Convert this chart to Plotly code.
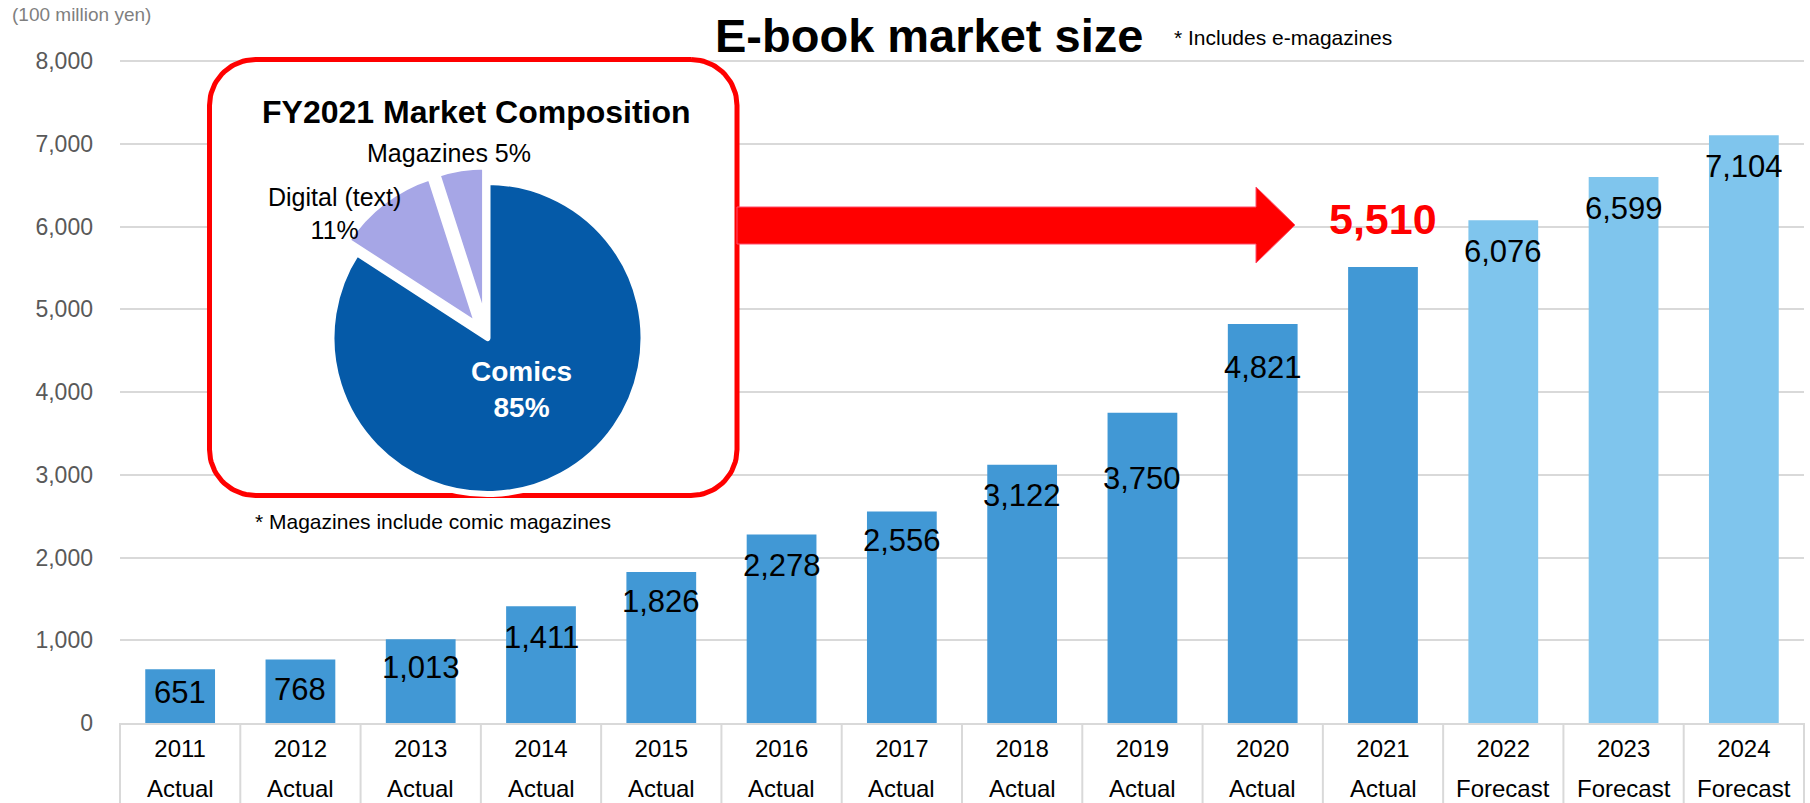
import numpy as np
import plotly.graph_objects as go

# ---- data -------------------------------------------------------------
years = ["2011", "2012", "2013", "2014", "2015", "2016", "2017",
         "2018", "2019", "2020", "2021", "2022", "2023", "2024"]
phase = ["Actual", "Actual", "Actual", "Actual", "Actual", "Actual", "Actual",
         "Actual", "Actual", "Actual", "Actual", "Forecast", "Forecast", "Forecast"]
market_size = [651, 768, 1013, 1411, 1826, 2278, 2556,
               3122, 3750, 4821, 5510, 6076, 6599, 7104]

pie_labels = ["Comics", "Digital (text)", "Magazines"]
pie_share = [85, 11, 5]

highlight_year = "2021"

# value-label placement: pixels from bar top down to label centre (negative = above)
label_drop = [23, 30, 28, 31, 30, 31, 29, 31, 66, 43, -48, 31, 32, 31]

# ---- geometry helpers ---------------------------------------------------
W, H = 1810, 803
ML, MR, MT, MB = 120, 6, 30, 80
PW = W - ML - MR
PH = H - MT - MB
Y8000_PX = 61                      # pixel row of the 8,000 gridline
Y_TOP = 8000 * PH / (H - MB - Y8000_PX)

FONT = "Liberation Sans, Arial, Helvetica, sans-serif"
GRID = "#D9D9D9"
n = len(years)


def paper_x(px):
    return (px - ML) / PW


def paper_y(py):
    return (H - MB - py) / PH


def cat_x(i):
    """paper x of category i on the band axis spanning [-0.5, n-0.5]"""
    return (i + 0.5) / n


def ovl(points):
    """figure pixels (y down) -> overlay axis units (y up)"""
    xs = [p[0] - ML for p in points]
    ys = [(H - MB) - p[1] for p in points]
    return xs, ys


def rounded_rect(x0, y0, x1, y1, r, k=24):
    pts = []
    corners = [(x1 - r, y0 + r, -90, 0), (x1 - r, y1 - r, 0, 90),
               (x0 + r, y1 - r, 90, 180), (x0 + r, y0 + r, 180, 270)]
    for cx, cy, a0, a1 in corners:
        for t in np.linspace(np.radians(a0), np.radians(a1), k):
            pts.append((cx + r * np.cos(t), cy + r * np.sin(t)))
    pts.append(pts[0])
    return pts


bar_colors = ["#4198D5" if p == "Actual" else "#7FC5ED" for p in phase]

fig = go.Figure()

fig.add_trace(go.Bar(
    x=years, y=market_size, marker=dict(color=bar_colors, line=dict(width=0)),
    width=0.58, hoverinfo="skip", showlegend=False,
))

# inset panel frame
bx, by = ovl(rounded_rect(209.5, 59.5, 737, 495.5, 46))
fig.add_trace(go.Scatter(
    x=bx, y=by, xaxis="x2", yaxis="y2", mode="lines", fill="toself",
    fillcolor="white", line=dict(color="#FF0000", width=5),
    hoverinfo="skip", showlegend=False,
))

# arrow from the panel to the FY2021 bar
ax_, ay_ = ovl([(737, 207), (1256, 207), (1256, 187), (1295, 225),
                (1256, 263), (1256, 244), (737, 244), (737, 207)])
fig.add_trace(go.Scatter(
    x=ax_, y=ay_, xaxis="x2", yaxis="y2", mode="lines", fill="toself",
    fillcolor="#FF0000", line=dict(color="#FF4D6A", width=1),
    hoverinfo="skip", showlegend=False,
))

# FY2021 composition pie
pcx, pcy, pr = 487.5, 338, 156
pull = [0, 0.1, 0.1]
half = pr * (1 + max(pull))
fig.add_trace(go.Pie(
    labels=pie_labels, values=pie_share, sort=False, direction="clockwise",
    rotation=0, pull=pull, textinfo="none", hoverinfo="skip",
    marker=dict(colors=["#055AA8", "#A6A6E6", "#A6A6E6"],
                line=dict(color="white", width=6)),
    domain=dict(x=[paper_x(pcx - half), paper_x(pcx + half)],
                y=[paper_y(pcy + half), paper_y(pcy - half)]),
    showlegend=False,
))

annotations = []

# value labels
for i, (yr, v, d) in enumerate(zip(years, market_size, label_drop)):
    if yr == highlight_year:
        font = dict(family=FONT, size=43, color="#FF0000")
        txt = f"<b>{v:,}</b>"
    else:
        font = dict(family=FONT, size=31, color="black")
        txt = f"{v:,}"
    annotations.append(dict(x=cat_x(i), y=v, xref="paper", yref="y", text=txt,
                            showarrow=False, xanchor="center", yanchor="middle",
                            yshift=-d, font=font))

# second row of the category axis
for i, p in enumerate(phase):
    annotations.append(dict(x=cat_x(i), y=0, xref="paper", yref="paper", text=p,
                            showarrow=False, xanchor="center", yanchor="middle",
                            yshift=-(788 - (H - MB)),
                            font=dict(family=FONT, size=24, color="black")))


def text_at(px, py, text, size, color="black", xanchor="center", bold=False):
    annotations.append(dict(
        x=paper_x(px), y=paper_y(py), xref="paper", yref="paper",
        text=f"<b>{text}</b>" if bold else text, showarrow=False,
        xanchor=xanchor, yanchor="middle",
        font=dict(family=FONT, size=size, color=color)))


text_at(929, 35, "E-book market size", 47, bold=True)
text_at(1172, 38, "* Includes e-magazines", 21, xanchor="left")
text_at(10, 15, "(100 million yen)", 19, color="#7F7F7F", xanchor="left")
text_at(476, 112, "FY2021 Market Composition", 32, bold=True)
text_at(449, 153, f"{pie_labels[2]} {pie_share[2]}%", 25)
text_at(334, 213, f"{pie_labels[1]}<br>{pie_share[1]}%", 25)
text_at(521, 390, f"{pie_labels[0]}<br>{pie_share[0]}%", 28, color="white", bold=True)
text_at(253, 521, "* Magazines include comic magazines", 21, xanchor="left")

# category separators below the axis
shapes = [dict(type="line", xref="paper", yref="paper",
               x0=k / n, x1=k / n, y0=0, y1=paper_y(H + 2),
               line=dict(color=GRID, width=2)) for k in range(n + 1)]

fig.update_layout(
    width=W, height=H,
    margin=dict(l=ML, r=MR, t=MT, b=MB, pad=0),
    paper_bgcolor="white", plot_bgcolor="white",
    font=dict(family=FONT, color="black"),
    bargap=0.42,
    showlegend=False,
    xaxis=dict(type="category", range=[-0.5, n - 0.5], showgrid=False,
               showline=True, linecolor=GRID, linewidth=2, ticks="",
               tickfont=dict(family=FONT, size=24, color="black"),
               ticklabelstandoff=3, fixedrange=True),
    yaxis=dict(range=[0, Y_TOP], tickvals=list(range(0, 8001, 1000)),
               tickformat=",", showgrid=True, gridcolor=GRID, gridwidth=2,
               zeroline=False, showline=False, ticks="",
               tickfont=dict(family=FONT, size=23, color="#595959"),
               ticklabelstandoff=26, fixedrange=True),
    xaxis2=dict(overlaying="x", anchor="y2", range=[0, PW], visible=False,
                fixedrange=True),
    yaxis2=dict(overlaying="y", anchor="x2", range=[0, PH], visible=False,
                fixedrange=True),
    annotations=annotations,
    shapes=shapes,
)

fig.write_html("out.html")
